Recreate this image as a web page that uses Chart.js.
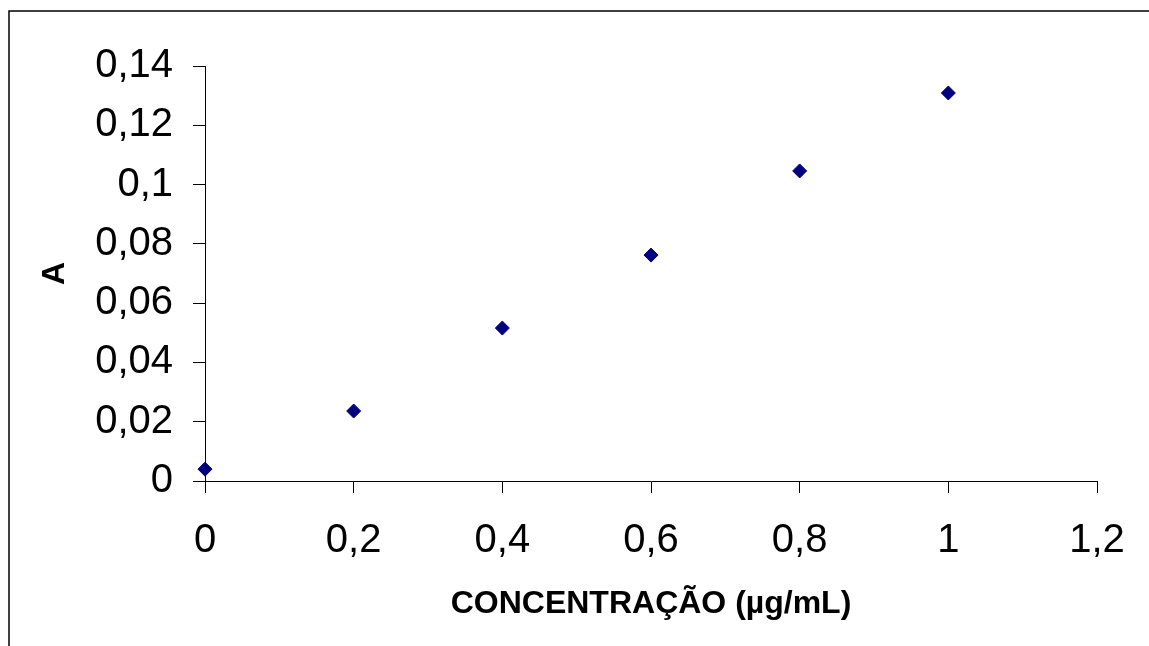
<!DOCTYPE html>
<html>
<head>
<meta charset="utf-8">
<script src="https://cdn.jsdelivr.net/npm/chart.js@4"></script>
<style>
  body { margin: 0; background: #fff; }
  canvas { display: block; }
</style>
</head>
<body>
<canvas id="curveChart" width="1149" height="646"></canvas>
<script>
// concentration (µg/mL) and absorbance
const concentrations = [0, 0.2, 0.4, 0.6, 0.8, 1.0];
const absorbances = [0.0040, 0.0236, 0.0516, 0.0762, 0.1046, 0.1309];

const xTitle = 'CONCENTRAÇÃO (µg/mL)';
const yTitle = 'A';

const fontFamily = "'Liberation Sans', Arial, sans-serif";

function commaNum(v) {
  return Number(v.toFixed(2)).toString().replace('.', ',');
}

// outer frame of the chart object
const framePlugin = {
  id: 'frame',
  beforeDraw(chart) {
    const ctx = chart.ctx;
    ctx.save();
    ctx.fillStyle = '#fff';
    ctx.fillRect(0, 0, chart.width, chart.height);
    ctx.strokeStyle = '#000';
    ctx.lineWidth = 1.5;
    ctx.strokeRect(9, 11, 1300, 800);
    ctx.restore();
  }
};

const points = concentrations.map((c, i) => ({ x: c, y: absorbances[i] }));

new Chart(document.getElementById('curveChart').getContext('2d'), {
  type: 'scatter',
  data: {
    datasets: [{
      label: 'A',
      data: points,
      backgroundColor: '#000080',
      borderColor: '#000080',
      borderWidth: 1,
      pointStyle: 'rectRot',
      pointRadius: 7,
      pointHoverRadius: 7,
      clip: false
    }]
  },
  options: {
    responsive: false,
    animation: false,
    layout: { padding: { left: 0, top: 66, right: 52, bottom: 0 } },
    plugins: {
      legend: { display: false },
      tooltip: { enabled: false }
    },
    scales: {
      x: {
        type: 'linear',
        min: 0,
        max: 1.2,
        afterFit(scale) { scale.height = 165; },
        border: { display: true, color: '#000', width: 1 },
        grid: { drawOnChartArea: false, drawTicks: true, tickLength: 12, color: '#000' },
        ticks: {
          stepSize: 0.2,
          padding: 24,
          color: '#000',
          font: { family: fontFamily, size: 40 },
          callback: v => commaNum(v)
        },
        title: {
          display: true,
          text: xTitle,
          color: '#000',
          font: { family: fontFamily, size: 32, weight: 'bold' },
          padding: { top: 0, bottom: 23 }
        }
      },
      y: {
        type: 'linear',
        min: 0,
        max: 0.14,
        afterFit(scale) { scale.width = 205; },
        border: { display: true, color: '#000', width: 1 },
        grid: { drawOnChartArea: false, drawTicks: true, tickLength: 12, color: '#000' },
        ticks: {
          stepSize: 0.02,
          padding: 20,
          color: '#000',
          font: { family: fontFamily, size: 40 },
          callback: v => commaNum(v)
        },
        title: {
          display: true,
          text: yTitle,
          color: '#000',
          font: { family: fontFamily, size: 32, weight: 'bold' },
          padding: { top: 36, bottom: 0 }
        }
      }
    }
  },
  plugins: [framePlugin]
});
</script>
</body>
</html>
